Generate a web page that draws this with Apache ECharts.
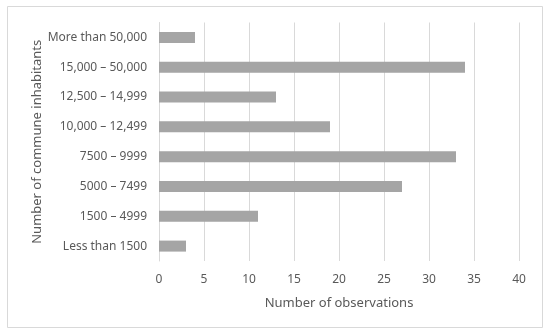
<!DOCTYPE html>
<html><head><meta charset="utf-8">
<script src="https://cdn.jsdelivr.net/npm/echarts@6/dist/echarts.min.js"></script>
<style>html,body{margin:0;padding:0;background:#fff}#c{width:550px;height:335px}</style>
</head><body><div id="c"></div>
<script>
const categories = ["More than 50,000", "15,000 \u2013 50,000", "12,500 \u2013 14,999", "10,000 \u2013 12,499", "7500 \u2013 9999", "5000 \u2013 7499", "1500 \u2013 4999", "Less than 1500"];
const observations = [4, 34, 13, 19, 33, 27, 11, 3];
const xTicks = [0, 5, 10, 15, 20, 25, 30, 35, 40];
const xTitle = "Number of observations";
const yTitle = "Number of commune inhabitants";

const font = "Noto Sans";
const chart = echarts.init(document.getElementById('c'), null, {renderer: 'canvas'});
chart.setOption({
  animation: false,
  backgroundColor: '#fff',
  textStyle: {fontFamily: font},
  graphic: [{type: 'rect', shape: {x: 7.5, y: 6.5, width: 535, height: 321}, style: {fill: 'none', stroke: '#d9d9d9', lineWidth: 1}}],
  grid: {left: 159, right: 31, top: 22.5, bottom: 74},
  xAxis: {
    type: 'value', min: xTicks[0], max: xTicks[xTicks.length - 1], interval: 5,
    name: xTitle, nameLocation: 'middle', nameGap: 36,
    nameTextStyle: {color: '#595959', fontSize: 13, fontFamily: font},
    axisLine: {show: false}, axisTick: {show: false},
    axisLabel: {color: '#595959', fontSize: 12, margin: 13, fontFamily: font},
    splitLine: {show: true, lineStyle: {color: '#d9d9d9', width: 1}}
  },
  yAxis: {
    type: 'category', data: categories, inverse: true,
    name: yTitle, nameLocation: 'middle', nameGap: 115, nameRotate: 90, nameMoveOverlap: false,
    nameTextStyle: {color: '#595959', fontSize: 13, fontFamily: font},
    axisLine: {show: true, lineStyle: {color: '#d9d9d9'}}, axisTick: {show: false},
    axisLabel: {color: '#595959', fontSize: 12, margin: 12, fontFamily: font}
  },
  series: [{type: 'bar', data: observations, barWidth: 11, itemStyle: {color: '#a5a5a5'}}]
});
</script></body></html>
